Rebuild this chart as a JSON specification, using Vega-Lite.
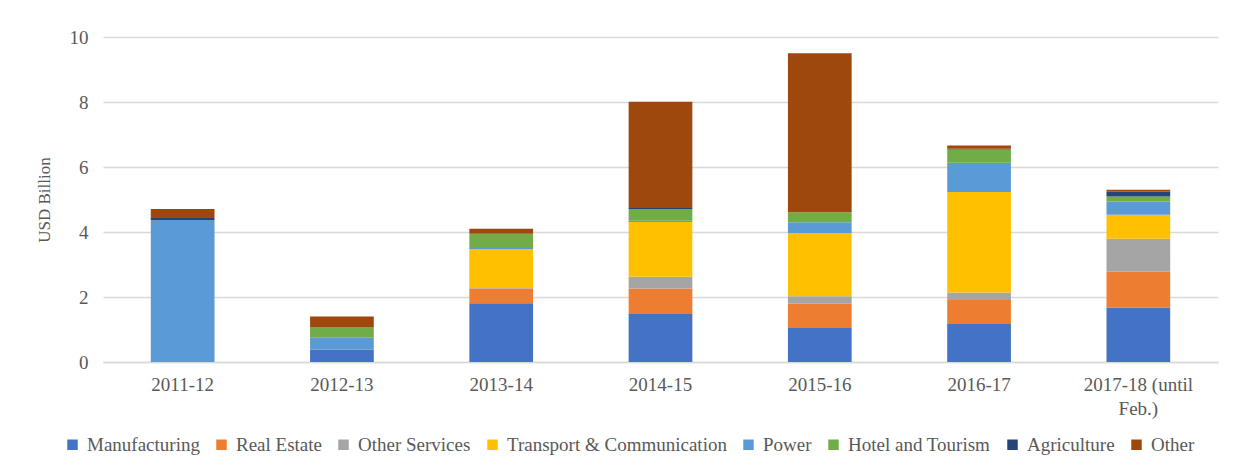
{
  "$schema": "https://vega.github.io/schema/vega-lite/v6.json",
  "width": 1115,
  "height": 325,
  "autosize": "none",
  "padding": {"left": 103, "top": 37, "right": 36, "bottom": 112},
  "background": "white",
  "config": {
    "font": "'Liberation Serif', 'Times New Roman', serif",
    "view": {"stroke": null},
    "axis": {"labelFont": "'Liberation Serif', 'Times New Roman', serif", "titleFont": "'Liberation Serif', 'Times New Roman', serif", "labelColor": "#595959", "titleColor": "#595959", "titleFontWeight": "normal"},
    "legend": {"labelFont": "'Liberation Serif', 'Times New Roman', serif"}
  },
  "data": {
    "values": [
      {"year": "2011-12", "sector": "Power", "value": 4.37},
      {"year": "2011-12", "sector": "Agriculture", "value": 0.06},
      {"year": "2011-12", "sector": "Other", "value": 0.28},
      {"year": "2012-13", "sector": "Manufacturing", "value": 0.38},
      {"year": "2012-13", "sector": "Power", "value": 0.37},
      {"year": "2012-13", "sector": "Hotel and Tourism", "value": 0.31},
      {"year": "2012-13", "sector": "Other", "value": 0.34},
      {"year": "2013-14", "sector": "Manufacturing", "value": 1.81},
      {"year": "2013-14", "sector": "Real Estate", "value": 0.45},
      {"year": "2013-14", "sector": "Other Services", "value": 0.02},
      {"year": "2013-14", "sector": "Transport & Communication", "value": 1.19},
      {"year": "2013-14", "sector": "Power", "value": 0.04},
      {"year": "2013-14", "sector": "Hotel and Tourism", "value": 0.44},
      {"year": "2013-14", "sector": "Other", "value": 0.15},
      {"year": "2014-15", "sector": "Manufacturing", "value": 1.48},
      {"year": "2014-15", "sector": "Real Estate", "value": 0.78},
      {"year": "2014-15", "sector": "Other Services", "value": 0.36},
      {"year": "2014-15", "sector": "Transport & Communication", "value": 1.69},
      {"year": "2014-15", "sector": "Power", "value": 0.04},
      {"year": "2014-15", "sector": "Hotel and Tourism", "value": 0.36},
      {"year": "2014-15", "sector": "Agriculture", "value": 0.03},
      {"year": "2014-15", "sector": "Other", "value": 3.27},
      {"year": "2015-16", "sector": "Manufacturing", "value": 1.05},
      {"year": "2015-16", "sector": "Real Estate", "value": 0.74},
      {"year": "2015-16", "sector": "Other Services", "value": 0.23},
      {"year": "2015-16", "sector": "Transport & Communication", "value": 1.94},
      {"year": "2015-16", "sector": "Power", "value": 0.34},
      {"year": "2015-16", "sector": "Hotel and Tourism", "value": 0.31},
      {"year": "2015-16", "sector": "Other", "value": 4.89},
      {"year": "2016-17", "sector": "Manufacturing", "value": 1.17},
      {"year": "2016-17", "sector": "Real Estate", "value": 0.74},
      {"year": "2016-17", "sector": "Other Services", "value": 0.23},
      {"year": "2016-17", "sector": "Transport & Communication", "value": 3.09},
      {"year": "2016-17", "sector": "Power", "value": 0.9},
      {"year": "2016-17", "sector": "Hotel and Tourism", "value": 0.41},
      {"year": "2016-17", "sector": "Agriculture", "value": 0.02},
      {"year": "2016-17", "sector": "Other", "value": 0.1},
      {"year": "2017-18 (until Feb.)", "sector": "Manufacturing", "value": 1.67},
      {"year": "2017-18 (until Feb.)", "sector": "Real Estate", "value": 1.11},
      {"year": "2017-18 (until Feb.)", "sector": "Other Services", "value": 1.01},
      {"year": "2017-18 (until Feb.)", "sector": "Transport & Communication", "value": 0.74},
      {"year": "2017-18 (until Feb.)", "sector": "Power", "value": 0.41},
      {"year": "2017-18 (until Feb.)", "sector": "Hotel and Tourism", "value": 0.15},
      {"year": "2017-18 (until Feb.)", "sector": "Agriculture", "value": 0.15},
      {"year": "2017-18 (until Feb.)", "sector": "Other", "value": 0.06}
    ]
  },
  "transform": [
    {"calculate": "indexof(['Manufacturing', 'Real Estate', 'Other Services', 'Transport & Communication', 'Power', 'Hotel and Tourism', 'Agriculture', 'Other'], datum.sector)", "as": "stackOrder"}
  ],
  "mark": {"type": "bar"},
  "encoding": {
    "x": {
      "field": "year",
      "type": "nominal",
      "sort": null,
      "scale": {"paddingInner": 0.6, "paddingOuter": 0.3},
      "axis": {
        "title": null,
        "labelAngle": 0,
        "labelFontSize": 19,
        "labelPadding": 13,
        "ticks": false,
        "domainColor": "#d9d9d9",
        "domainWidth": 1.5,
        "labelLineHeight": 24,
        "labelExpr": "datum.value == '2017-18 (until Feb.)' ? ['2017-18 (until', 'Feb.)'] : datum.label"
      }
    },
    "y": {
      "field": "value",
      "type": "quantitative",
      "aggregate": "sum",
      "scale": {"domain": [0, 10]},
      "axis": {
        "title": "USD Billion",
        "titleFontSize": 17,
        "titlePadding": 16,
        "labelFontSize": 19,
        "labelPadding": 15,
        "values": [0, 2, 4, 6, 8, 10],
        "ticks": false,
        "domain": false,
        "gridColor": "#d9d9d9",
        "gridWidth": 1.5
      }
    },
    "order": {"field": "stackOrder", "type": "quantitative", "sort": "ascending"},
    "color": {
      "field": "sector",
      "type": "nominal",
      "sort": ["Manufacturing", "Real Estate", "Other Services", "Transport & Communication", "Power", "Hotel and Tourism", "Agriculture", "Other"],
      "scale": {
        "domain": ["Manufacturing", "Real Estate", "Other Services", "Transport & Communication", "Power", "Hotel and Tourism", "Agriculture", "Other"],
        "range": ["#4472C4", "#ED7D31", "#A5A5A5", "#FFC000", "#5B9BD5", "#70AD47", "#264478", "#9E480E"]
      },
      "legend": {
        "title": null,
        "orient": "none",
        "direction": "horizontal",
        "columns": 8,
        "legendX": -40,
        "legendY": 398,
        "symbolType": "square",
        "symbolSize": 110,
        "symbolStrokeWidth": 0,
        "labelFontSize": 19,
        "labelColor": "#595959",
        "labelOffset": 5,
        "columnPadding": 12,
        "labelLimit": 400
      }
    }
  }
}
